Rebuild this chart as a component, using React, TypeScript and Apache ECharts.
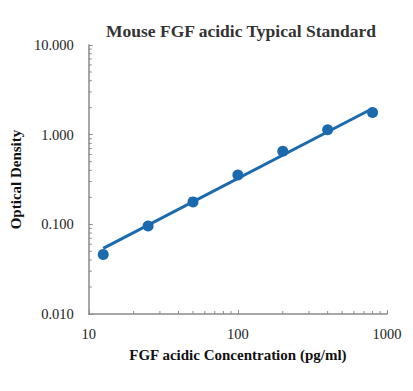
import React, { useEffect, useRef } from "react";
import * as echarts from "echarts";

const concentrations = [12.5, 25, 50, 100, 200, 400, 800];
const odValues = [0.046, 0.096, 0.178, 0.354, 0.655, 1.135, 1.77];
const fitX = [12.5, 800];
const fitY = [0.054, 1.96];
const xTickLabels = ["10", "100", "1000"];
const yTickLabels = ["0.010", "0.100", "1.000", "10.000"];

const BLUE = "#1b6aae";
const AXIS = "#8a8a8a";
const FONT = "'Liberation Serif', 'Times New Roman', serif";

export default function App() {
  const ref = useRef<HTMLDivElement>(null);
  useEffect(() => {
    if (!ref.current) return;
    const chart = echarts.init(ref.current, undefined, { renderer: "svg" });
    const grid = { left: 87, right: 26, top: 45, bottom: 77 };
    chart.setOption({
      animation: false,
      backgroundColor: "#ffffff",
      title: {
        text: "Mouse FGF acidic Typical Standard",
        left: 236,
        top: 17,
        textAlign: "center",
        textStyle: { fontFamily: FONT, fontWeight: "bold", fontSize: 17.5, color: "#333" },
      },
      grid,
      xAxis: {
        type: "log",
        logBase: 10,
        min: 10,
        max: 1000,
        name: "FGF acidic Concentration (pg/ml)",
        nameLocation: "middle",
        nameGap: 33,
        nameTextStyle: { fontFamily: FONT, fontWeight: "bold", fontSize: 15, color: "#111" },
        axisLine: { lineStyle: { color: AXIS, width: 1.5 } },
        axisTick: { inside: true, length: 4, lineStyle: { color: AXIS } },
        splitLine: { show: false },
        axisLabel: {
          fontFamily: FONT,
          fontSize: 14.5,
          color: "#222",
          margin: 12,
          formatter: (v: number) => {
            const i = Math.round(Math.log10(v)) - 1;
            return xTickLabels[i] ?? "";
          },
        },
      },
      yAxis: {
        type: "log",
        logBase: 10,
        min: 0.01,
        max: 10,
        name: "Optical Density",
        nameLocation: "middle",
        nameGap: 64,
        nameTextStyle: { fontFamily: FONT, fontWeight: "bold", fontSize: 15, color: "#111" },
        axisLine: { show: true, lineStyle: { color: AXIS, width: 1.5 } },
        axisTick: { show: true, inside: true, length: 4, lineStyle: { color: AXIS } },
        splitLine: { show: false },
        axisLabel: {
          fontFamily: FONT,
          fontSize: 14.5,
          color: "#222",
          margin: 15,
          formatter: (v: number) => {
            const i = Math.round(Math.log10(v)) + 2;
            return yTickLabels[i] ?? "";
          },
        },
      },
      series: [
        {
          type: "line",
          data: fitX.map((x, i) => [x, fitY[i]]),
          showSymbol: false,
          lineStyle: { color: BLUE, width: 3 },
          z: 2,
        },
        {
          type: "scatter",
          data: concentrations.map((x, i) => [x, odValues[i]]),
          symbolSize: 11,
          itemStyle: { color: BLUE, opacity: 1 },
          z: 3,
        },
      ],
    });

    const elements: any[] = [];
    const x0 = chart.convertToPixel({ xAxisIndex: 0 }, 10) as number;
    const yBottom = chart.convertToPixel({ yAxisIndex: 0 }, 0.01) as number;
    for (const dec of [10, 100]) {
      for (let m = 2; m <= 9; m++) {
        const px = chart.convertToPixel({ xAxisIndex: 0 }, dec * m) as number;
        elements.push({
          type: "line",
          shape: { x1: px, y1: yBottom, x2: px, y2: yBottom - 3 },
          style: { stroke: AXIS, lineWidth: 1 },
          silent: true,
        });
      }
    }
    for (const dec of [0.01, 0.1, 1]) {
      for (let m = 2; m <= 9; m++) {
        const py = chart.convertToPixel({ yAxisIndex: 0 }, dec * m) as number;
        elements.push({
          type: "line",
          shape: { x1: x0, y1: py, x2: x0 + 3, y2: py },
          style: { stroke: AXIS, lineWidth: 1 },
          silent: true,
        });
      }
    }
    chart.setOption({ graphic: elements });
    return () => chart.dispose();
  }, []);
  return (
    <div
      ref={ref}
      style={{ position: "fixed", left: 0, top: 0, width: 413, height: 391 }}
    />
  );
}
